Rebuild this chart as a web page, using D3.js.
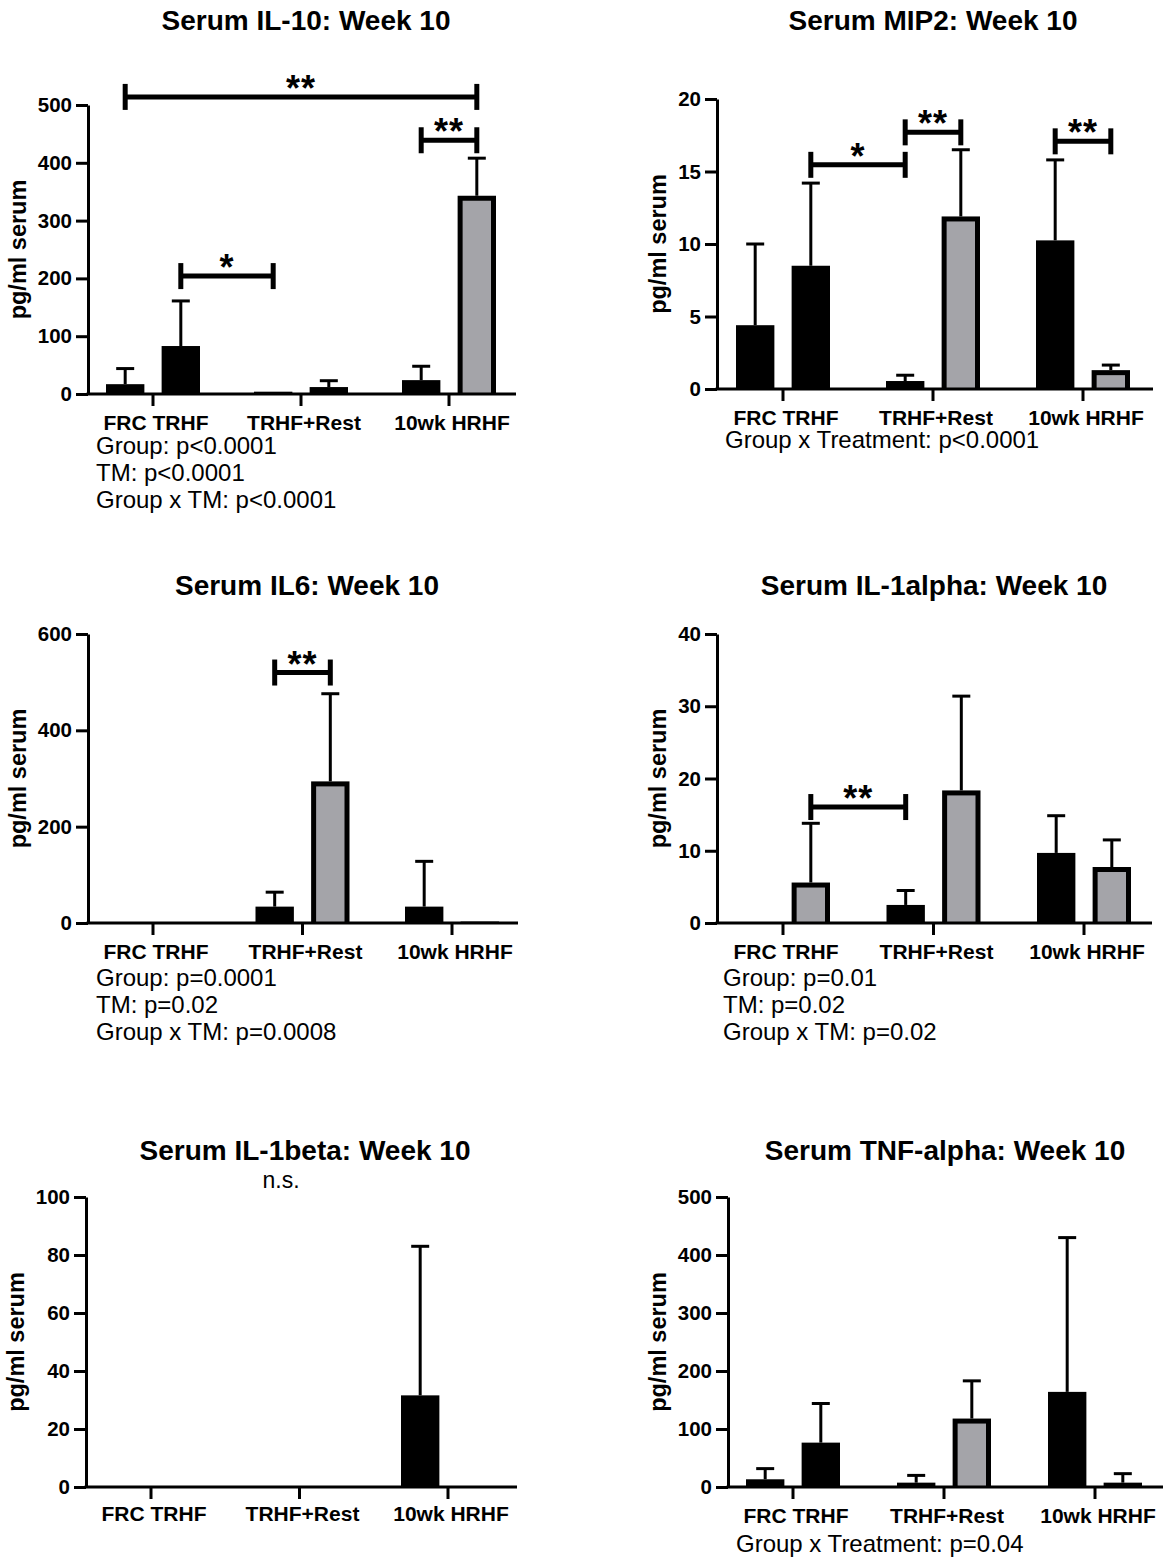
<!DOCTYPE html>
<html>
<head>
<meta charset="utf-8">
<script src="https://cdn.jsdelivr.net/npm/d3@7"></script>
<style>
  body { margin: 0; background: #fff; }
  svg { display: block; }
  text { font-family: "Liberation Sans", Arial, sans-serif; fill: #000; }
</style>
</head>
<body>
<div id="chart"></div>
<script>
// groups on the x axis, two bars each (untreated / treated)
const groups = ['FRC TRHF', 'TRHF+Rest', '10wk HRHF'];
const treatments = ['ctrl', 'tm'];

// mean values and upper error (SD) per bar
const il10Means = [17, 83, 4, 12, 24, 343];
const il10Errors = [27, 78, 0, 11, 24, 65];
const il10Gray = [false, false, false, false, false, true];
const il10Ticks = [0, 100, 200, 300, 400, 500];
const il10Brackets = [
  { from: 0, to: 5, value: 514, label: '**' },
  { from: 4, to: 5, value: 439, label: '**' },
  { from: 1, to: 2, value: 204, label: '*' },
];
const il10Stats = ['Group: p<0.0001', 'TM: p<0.0001', 'Group x TM: p<0.0001'];

const mip2Means = [4.4, 8.5, 0.55, 11.9, 10.25, 1.3];
const mip2Errors = [5.6, 5.7, 0.4, 4.6, 5.55, 0.35];
const mip2Gray = [false, false, false, true, false, true];
const mip2Ticks = [0, 5, 10, 15, 20];
const mip2Brackets = [
  { from: 1, to: 2, value: 15.46, label: '*' },
  { from: 2, to: 3, value: 17.7, label: '**' },
  { from: 4, to: 5, value: 17.08, label: '**' },
];
const mip2Stats = ['Group x Treatment: p<0.0001'];

const il6Means = [0, 0, 34, 294, 34, 3];
const il6Errors = [0, 0, 30, 182, 94, 0];
const il6Gray = [false, false, false, true, false, true];
const il6Ticks = [0, 200, 400, 600];
const il6Brackets = [{ from: 2, to: 3, value: 520, label: '**' }];
const il6Stats = ['Group: p=0.0001', 'TM: p=0.02', 'Group x TM: p=0.0008'];

const il1aMeans = [0, 5.6, 2.5, 18.35, 9.7, 7.75];
const il1aErrors = [0, 8.2, 2.0, 13.05, 5.15, 3.75];
const il1aGray = [false, true, false, true, false, true];
const il1aTicks = [0, 10, 20, 30, 40];
const il1aBrackets = [{ from: 1, to: 2, value: 16.05, label: '**' }];
const il1aStats = ['Group: p=0.01', 'TM: p=0.02', 'Group x TM: p=0.02'];

const il1bMeans = [0, 0, 0, 0, 31.6, 0];
const il1bErrors = [0, 0, 0, 0, 51.4, 0];
const il1bGray = [false, false, false, false, false, false];
const il1bTicks = [0, 20, 40, 60, 80, 100];

const tnfMeans = [13.3, 76.5, 7.5, 118, 164, 7.5];
const tnfErrors = [18.4, 67.5, 12.5, 65, 266, 15.5];
const tnfGray = [false, false, false, true, false, false];
const tnfTicks = [0, 100, 200, 300, 400, 500];
const tnfStats = ['Group x Treatment: p=0.04'];

const width = 1163;
const height = 1557;
const grayFill = '#a4a4a9';

// one entry per panel: data plus where it sits on the page
const panels = [
  { title: 'Serum IL-10: Week 10', means: il10Means, errors: il10Errors, gray: il10Gray, ticks: il10Ticks,
    brackets: il10Brackets, stats: il10Stats,
    left: 88, right: 516, top: 105, bottom: 394, firstGroup: 153, step: 148,
    titleX: 306, titleY: 30, labelY: 430, statsX: 96, statsY: 454, ylabelX: 26 },
  { title: 'Serum MIP2: Week 10', means: mip2Means, errors: mip2Errors, gray: mip2Gray, ticks: mip2Ticks,
    brackets: mip2Brackets, stats: mip2Stats,
    left: 717, right: 1153, top: 99, bottom: 389, firstGroup: 783, step: 150,
    titleX: 933, titleY: 30, labelY: 425, statsX: 725, statsY: 448, ylabelX: 666 },
  { title: 'Serum IL6: Week 10', means: il6Means, errors: il6Errors, gray: il6Gray, ticks: il6Ticks,
    brackets: il6Brackets, stats: il6Stats,
    left: 88, right: 518, top: 634, bottom: 923, firstGroup: 153, step: 149.5,
    titleX: 307, titleY: 595, labelY: 959, statsX: 96, statsY: 986, ylabelX: 26 },
  { title: 'Serum IL-1alpha: Week 10', means: il1aMeans, errors: il1aErrors, gray: il1aGray, ticks: il1aTicks,
    brackets: il1aBrackets, stats: il1aStats,
    left: 717, right: 1152, top: 634, bottom: 923, firstGroup: 783, step: 150.5,
    titleX: 934, titleY: 595, labelY: 959, statsX: 723, statsY: 986, ylabelX: 666 },
  { title: 'Serum IL-1beta: Week 10', means: il1bMeans, errors: il1bErrors, gray: il1bGray, ticks: il1bTicks,
    brackets: [], stats: [], note: 'n.s.',
    left: 86, right: 517, top: 1197, bottom: 1487, firstGroup: 151, step: 148.5,
    titleX: 305, titleY: 1160, labelY: 1521, statsX: 97, statsY: 1550, ylabelX: 24 },
  { title: 'Serum TNF-alpha: Week 10', means: tnfMeans, errors: tnfErrors, gray: tnfGray, ticks: tnfTicks,
    brackets: [], stats: tnfStats,
    left: 728, right: 1163, top: 1197, bottom: 1487, firstGroup: 793, step: 151,
    titleX: 945, titleY: 1160, labelY: 1523, statsX: 736, statsY: 1552, ylabelX: 666 },
];

const svg = d3.select('#chart')
  .append('svg')
  .attr('width', width)
  .attr('height', height)
  .attr('viewBox', `0 0 ${width} ${height}`);

function drawPanel(p) {
  const g = svg.append('g');
  const max = d3.max(p.ticks);

  const y = d3.scaleLinear().domain([0, max]).range([p.bottom, p.top]);
  const x = d3.scaleBand()
    .domain(groups)
    .range([p.firstGroup - p.step / 2, p.firstGroup + p.step * 2.5]);
  const sub = d3.scaleBand().domain(treatments).range([-47, 47]).paddingInner(0.31);

  const bars = p.means.map((m, i) => ({
    group: groups[Math.floor(i / 2)],
    tm: treatments[i % 2],
    mean: m,
    err: p.errors[i],
    gray: p.gray[i],
  }));
  const barX = (d) => x(d.group) + x.bandwidth() / 2 + sub(d.tm);
  const barCx = (d) => barX(d) + sub.bandwidth() / 2;

  // title
  g.append('text')
    .attr('x', p.titleX)
    .attr('y', p.titleY)
    .attr('text-anchor', 'middle')
    .style('font-size', '28px')
    .style('font-weight', 'bold')
    .text(p.title);

  if (p.note) {
    g.append('text')
      .attr('x', p.titleX - 24)
      .attr('y', p.titleY + 28)
      .attr('text-anchor', 'middle')
      .style('font-size', '23px')
      .text(p.note);
  }

  // error bars (upper only), drawn under the bars
  const eb = g.append('g').attr('stroke', '#000').attr('stroke-width', 3);
  bars.filter((d) => d.err > 0).forEach((d) => {
    const cx = barCx(d);
    eb.append('line')
      .attr('x1', cx).attr('x2', cx)
      .attr('y1', y(d.mean)).attr('y2', y(d.mean + d.err));
    eb.append('line')
      .attr('x1', cx - 9).attr('x2', cx + 9)
      .attr('y1', y(d.mean + d.err)).attr('y2', y(d.mean + d.err));
  });

  // bars: black, or gray with thick black border
  const barG = g.append('g');
  bars.filter((d) => d.mean > 0).forEach((d) => {
    const top = y(d.mean);
    const h = y(0) - top;
    barG.append('rect')
      .attr('x', barX(d))
      .attr('y', top)
      .attr('width', sub.bandwidth())
      .attr('height', h)
      .attr('fill', '#000');
    if (d.gray && h > 10) {
      barG.append('rect')
        .attr('x', barX(d) + 5)
        .attr('y', top + 5)
        .attr('width', sub.bandwidth() - 10)
        .attr('height', h - 6)
        .attr('fill', grayFill);
    }
  });

  // y axis
  const yAxis = g.append('g')
    .attr('transform', `translate(${p.left},0)`)
    .call(d3.axisLeft(y).tickValues(p.ticks).tickSize(12).tickSizeOuter(0).tickPadding(4));
  yAxis.select('.domain').attr('stroke-width', 3);
  yAxis.selectAll('.tick line').attr('stroke-width', 3);
  yAxis.selectAll('.tick text')
    .style('font-size', '20.5px')
    .style('font-weight', 'bold')
    .style('font-family', '"Liberation Sans", Arial, sans-serif');

  // x axis: baseline plus a tick under each group
  g.append('line')
    .attr('x1', p.left - 1.5).attr('x2', p.right)
    .attr('y1', p.bottom).attr('y2', p.bottom)
    .attr('stroke', '#000').attr('stroke-width', 3);
  const xAxis = g.append('g')
    .attr('transform', `translate(0,${p.bottom})`)
    .call(d3.axisBottom(x).tickSize(12).tickSizeOuter(0));
  xAxis.select('.domain').remove();
  xAxis.selectAll('.tick line').attr('stroke-width', 3);
  xAxis.selectAll('.tick text')
    .attr('x', 3)
    .attr('y', p.labelY - p.bottom)
    .attr('dy', 0)
    .style('font-size', '21px')
    .style('font-weight', 'bold')
    .style('font-family', '"Liberation Sans", Arial, sans-serif');

  // y label
  g.append('text')
    .attr('transform', `translate(${p.ylabelX},${(p.top + p.bottom) / 2}) rotate(-90)`)
    .attr('text-anchor', 'middle')
    .style('font-size', '23.5px')
    .style('font-weight', 'bold')
    .text('pg/ml serum');

  // significance brackets
  p.brackets.forEach((b) => {
    const x1 = barCx(bars[b.from]);
    const x2 = barCx(bars[b.to]);
    const by = y(b.value);
    const bg = g.append('g').attr('stroke', '#000').attr('stroke-width', 5);
    bg.append('line').attr('x1', x1).attr('x2', x2).attr('y1', by).attr('y2', by);
    bg.append('line').attr('x1', x1).attr('x2', x1).attr('y1', by - 13).attr('y2', by + 13);
    bg.append('line').attr('x1', x2).attr('x2', x2).attr('y1', by - 13).attr('y2', by + 13);
    g.append('text')
      .attr('x', (x1 + x2) / 2)
      .attr('y', by + 4)
      .attr('text-anchor', 'middle')
      .style('font-size', '36px')
      .style('font-weight', 'bold')
      .style('letter-spacing', '1px')
      .text(b.label);
  });

  // anova results under the axis
  p.stats.forEach((s, i) => {
    g.append('text')
      .attr('x', p.statsX)
      .attr('y', p.statsY + i * 27)
      .style('font-size', '24px')
      .text(s);
  });
}

panels.forEach(drawPanel);
</script>
</body>
</html>
